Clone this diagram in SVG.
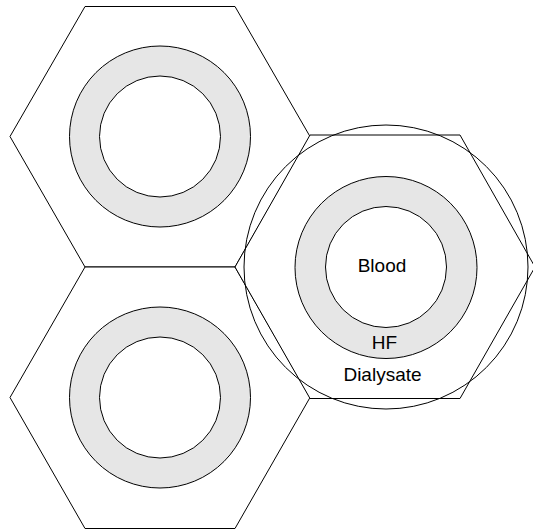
<svg xmlns="http://www.w3.org/2000/svg" width="533" height="531" viewBox="0 0 533 531">
<style>
.hex{fill:#ffffff;stroke:#000000;stroke-width:1;stroke-linejoin:miter}
.shell{fill:none;stroke:#000000;stroke-width:1}
.outer{fill:#e6e6e6;stroke:#000000;stroke-width:1}
.inner{fill:#ffffff;stroke:#000000;stroke-width:1}
.lbl{font-family:"Liberation Sans",Arial,sans-serif;font-size:19px;fill:#000000;text-anchor:middle}
</style>
<rect x="0" y="0" width="533" height="531" fill="#ffffff"/>
<g id="hex-top-left">
<polygon class="hex" points="10,136.5 85,6.5 235,6.5 310,136.5 235,267 85,267"/>
<circle class="outer" cx="160" cy="136.5" r="90.5"/>
<circle class="inner" cx="160" cy="136.5" r="60.5"/>
</g>
<g id="hex-bottom-left">
<polygon class="hex" points="10,397.5 85,267 235,267 310,397.5 235,528.5 85,528.5"/>
<circle class="outer" cx="160" cy="397.5" r="90.5"/>
<circle class="inner" cx="160" cy="397.5" r="60.5"/>
</g>
<g id="hex-right">
<polygon class="hex" points="235,267 310,135 460,135 535,267 460,398.5 310,398.5"/>
<circle class="shell" cx="386" cy="267" r="142"/>
<circle class="outer" cx="386" cy="267.5" r="91"/>
<circle class="inner" cx="386" cy="267" r="60.5"/>
<text class="lbl" x="382" y="271.5">Blood</text>
<text class="lbl" x="384.5" y="349">HF</text>
<text class="lbl" x="382.5" y="380.5">Dialysate</text>
</g>
<g id="connectors"></g>
</svg>
